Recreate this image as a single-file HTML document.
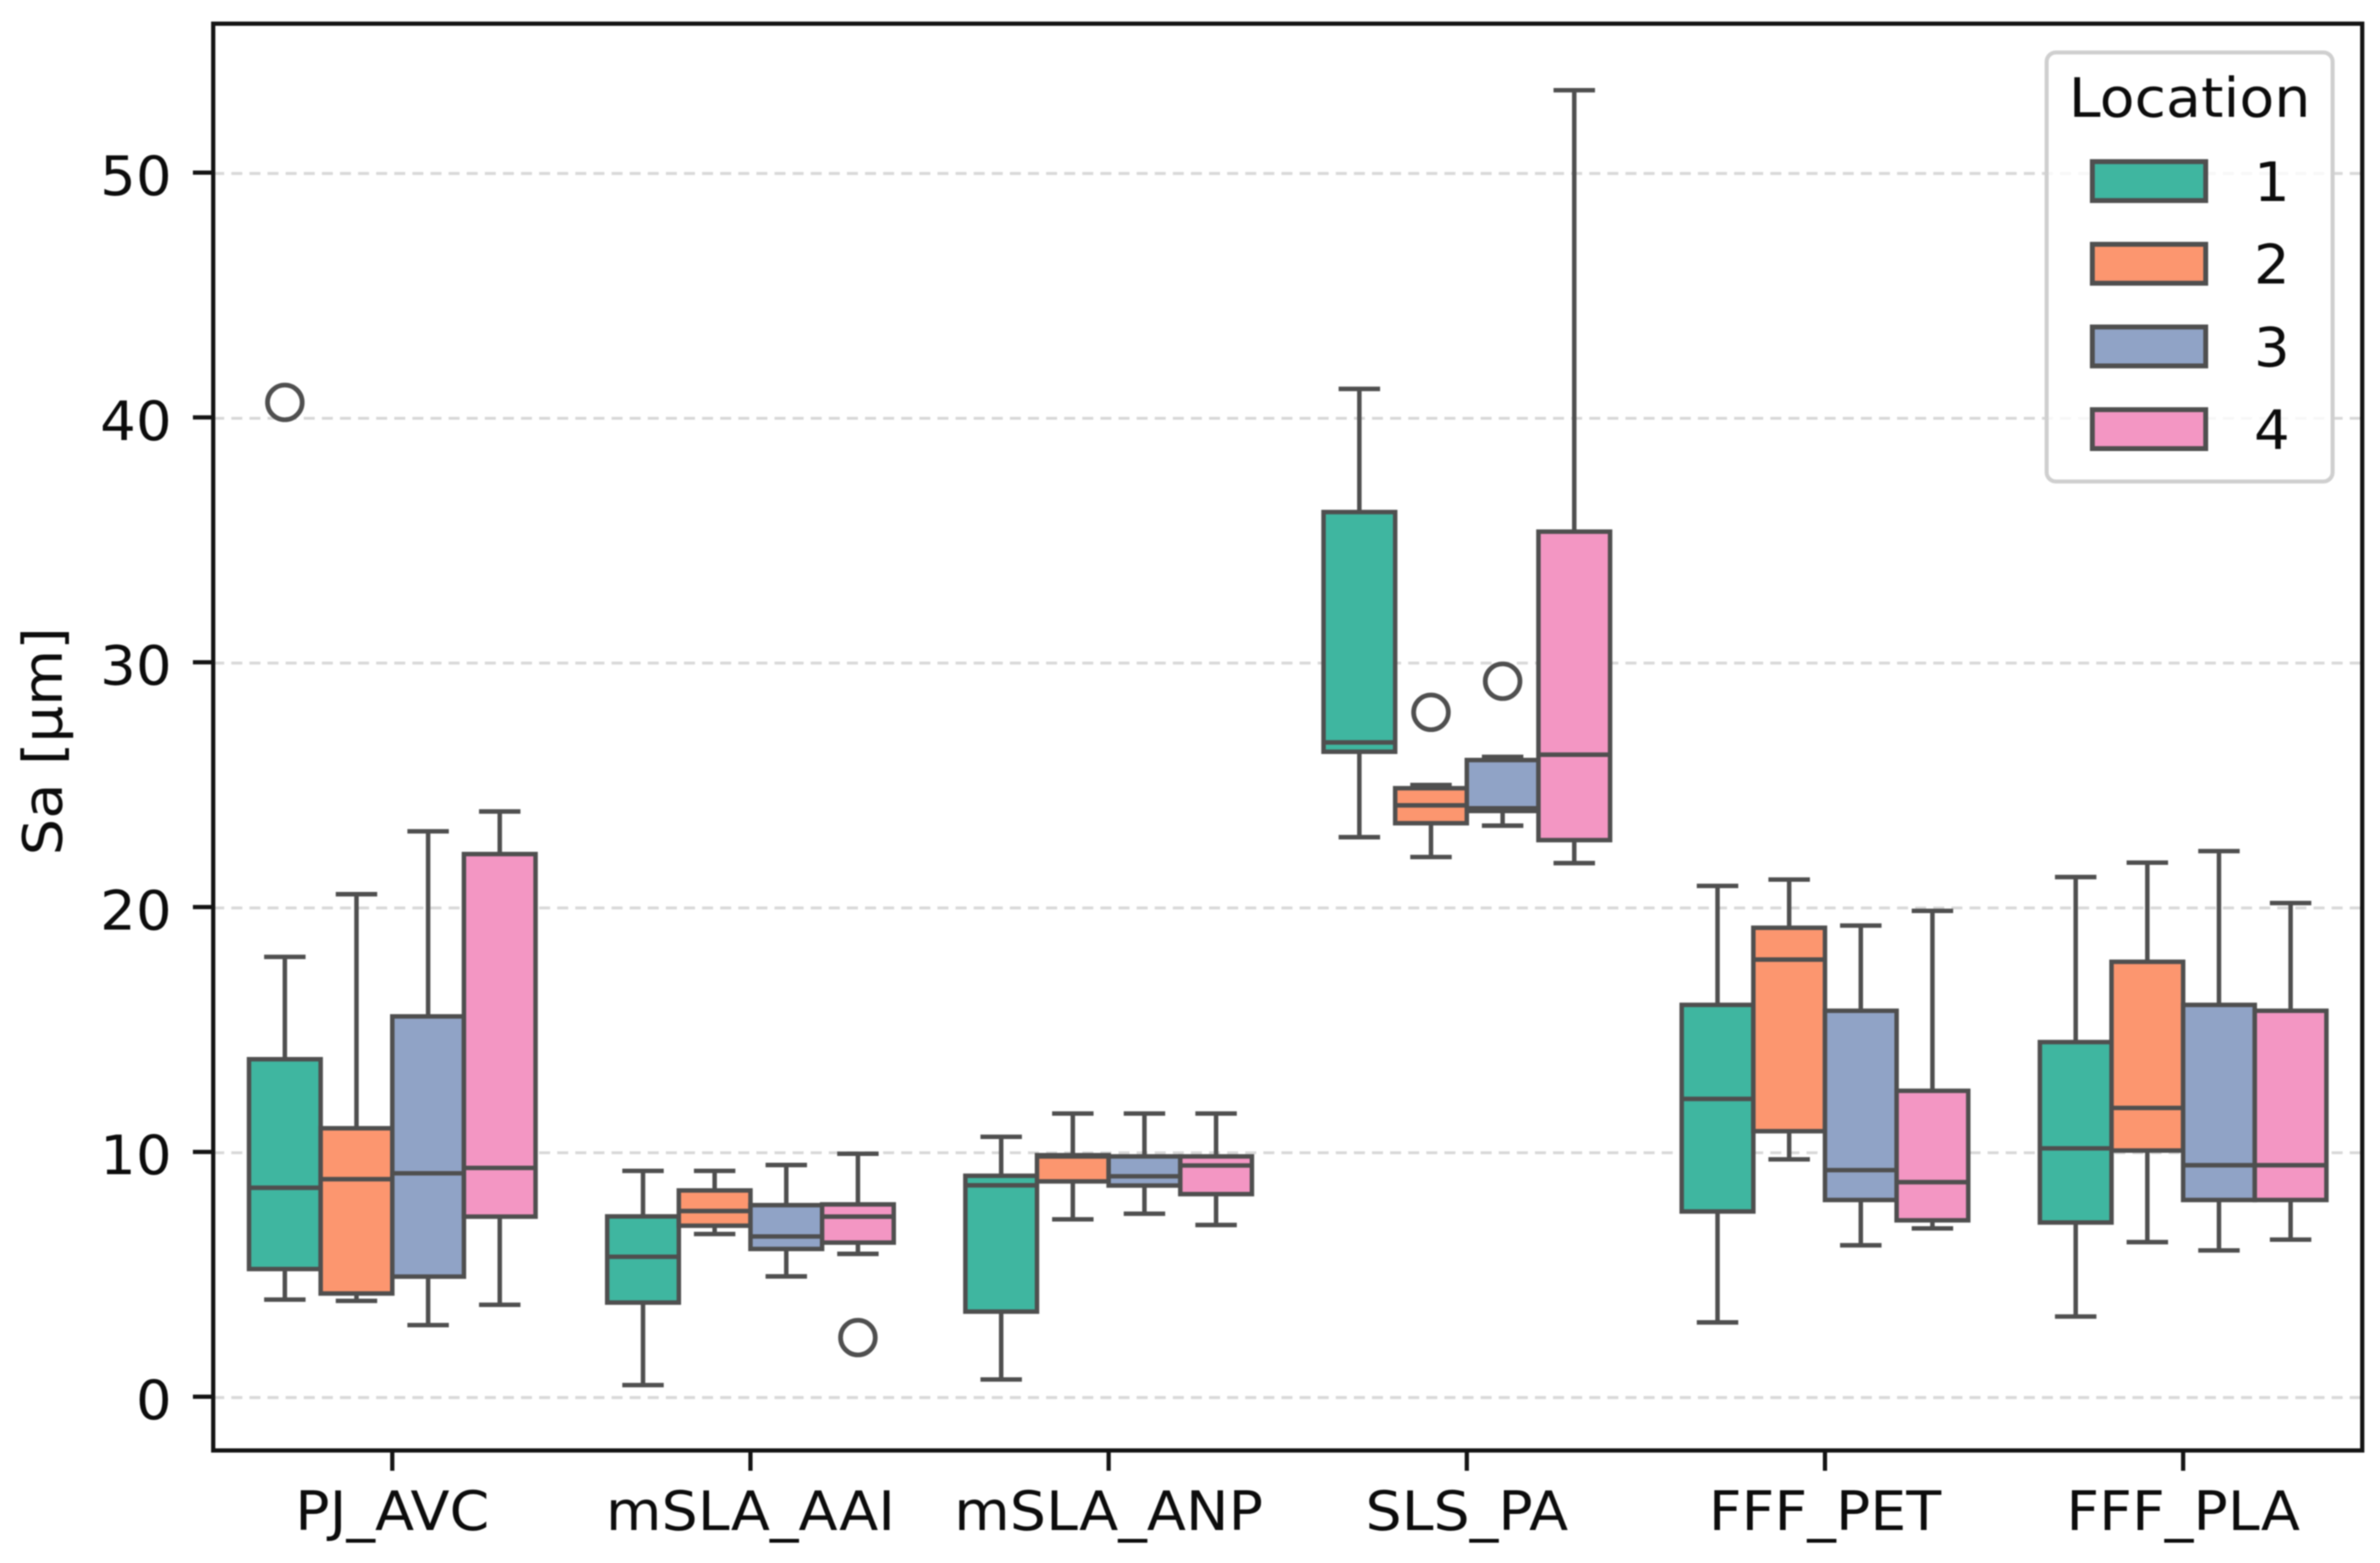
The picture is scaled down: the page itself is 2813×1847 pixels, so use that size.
<!DOCTYPE html>
<html lang="en">
<head>
<meta charset="utf-8">
<title>Sa by material and location</title>
<style>
html,body{margin:0;padding:0;background:#fff;}
svg{display:block;filter:blur(0.85px);}
text{font-family:"DejaVu Sans","Liberation Sans",sans-serif;fill:#0c0c0c;}
</style>
</head>
<body>
<svg id="chart" xmlns="http://www.w3.org/2000/svg" width="2813" height="1847" viewBox="0 0 2813 1847">
  <rect x="0" y="0" width="2813" height="1847" fill="#ffffff"/>
  <g id="grid"></g>
  <g id="boxes"></g>
  <g id="axes"></g>
  <text transform="translate(73,876) rotate(-90) scale(1.065,1)" text-anchor="middle" font-size="64">Sa [µm]</text>
  <g>
    <rect x="2419" y="62" width="338" height="507" rx="11" ry="11" fill="#ffffff" fill-opacity="0.8" stroke="#cfcfcf" stroke-width="4.8"/>
    <text transform="translate(2588,138) scale(1.056,1)" text-anchor="middle" font-size="64">Location</text>
    <g id="legend-entries"></g>
  </g>
</svg>
<script>
const categories = ['PJ_AVC', 'mSLA_AAI', 'mSLA_ANP', 'SLS_PA', 'FFF_PET', 'FFF_PLA'];
const locations = ['1', '2', '3', '4'];
const yTicks = [0, 10, 20, 30, 40, 50];
const colors = ['#3fb6a0', '#fc966f', '#90a3c6', '#f396c3'];

// One row per category, one column per location (µm)
const whiskerHigh = [
  [18.0, 20.56, 23.13, 23.94],
  [9.26, 9.26, 9.5, 9.96],
  [10.65, 11.6, 11.6, 11.6],
  [41.2, 25.02, 26.17, 53.4],
  [20.9, 21.16, 19.28, 19.88],
  [21.26, 21.85, 22.32, 20.2]
];
const q3 = [
  [13.82, 11.0, 15.57, 22.2],
  [7.4, 8.46, 7.86, 7.89],
  [9.06, 9.9, 9.85, 9.85],
  [36.17, 24.89, 26.04, 35.37],
  [16.04, 19.19, 15.8, 12.53],
  [14.52, 17.8, 16.04, 15.8]
];
const median = [
  [8.57, 8.92, 9.16, 9.38],
  [5.75, 7.62, 6.58, 7.39],
  [8.67, 9.85, 9.04, 9.48],
  [26.76, 24.19, 24.07, 26.26],
  [12.2, 17.89, 9.29, 8.8],
  [10.18, 11.83, 9.49, 9.49]
];
const q1 = [
  [5.25, 4.25, 4.94, 7.39],
  [3.88, 7.02, 6.07, 6.33],
  [3.51, 8.83, 8.66, 8.31],
  [26.38, 23.46, 23.96, 22.77],
  [7.6, 10.88, 8.07, 7.24],
  [7.15, 10.09, 8.07, 8.07]
];
const whiskerLow = [
  [4.0, 3.95, 2.96, 3.79],
  [0.51, 6.68, 4.95, 5.87],
  [0.74, 7.28, 7.51, 7.05],
  [22.89, 22.08, 23.36, 21.83],
  [3.07, 9.73, 6.22, 6.91],
  [3.31, 6.35, 6.01, 6.45]
];
const outlierCategory = [0, 1, 3, 3];
const outlierLocation = [0, 3, 1, 2];
const outlierValue = [40.65, 2.45, 27.99, 29.26];

const NS = 'http://www.w3.org/2000/svg';
const plotLeft = 252, plotRight = 2792, plotTop = 28, plotBottom = 1714;
const y0 = 1651.5, yPerUnit = 28.93;
const edge = '#4f4f4f', lw = 5.3;

function yScale(v) { return y0 - v * yPerUnit; }
function bandWidth() { return (plotRight - plotLeft) / categories.length; }
function xCategory(i) { return plotLeft + bandWidth() * (i + 0.5); }
function boxWidth() { return bandWidth() * 0.8 / locations.length; }
function xBox(i, j) { return xCategory(i) + (j - (locations.length - 1) / 2) * boxWidth(); }

function make(tag, attrs, parent) {
  const el = document.createElementNS(NS, tag);
  for (const k in attrs) el.setAttribute(k, attrs[k]);
  parent.appendChild(el);
  return el;
}
function slug(s) { return s.toLowerCase().replace(/_/g, '-'); }

const gridLayer = document.getElementById('grid');
const boxLayer = document.getElementById('boxes');
const axisLayer = document.getElementById('axes');
const legendLayer = document.getElementById('legend-entries');

yTicks.forEach(function (t) {
  const line = make('line', { x1: plotLeft, x2: plotRight, y1: yScale(t), y2: yScale(t), stroke: '#d8d8d8', 'stroke-width': 3.4, 'stroke-dasharray': '13 8.4' }, gridLayer);
  
  
});

categories.forEach(function (cat, i) {
  locations.forEach(function (loc, j) {
    const g = make('g', {}, boxLayer);
    
    
    const cx = xBox(i, j), w = boxWidth(), capHalf = 24.5;

    const whiskerUp = make('line', { x1: cx, x2: cx, y1: yScale(q3[i][j]), y2: yScale(whiskerHigh[i][j]), stroke: edge, 'stroke-width': lw }, g);
    
    

    const whiskerDown = make('line', { x1: cx, x2: cx, y1: yScale(q1[i][j]), y2: yScale(whiskerLow[i][j]), stroke: edge, 'stroke-width': lw }, g);
    
    

    const capUp = make('line', { x1: cx - capHalf, x2: cx + capHalf, y1: yScale(whiskerHigh[i][j]), y2: yScale(whiskerHigh[i][j]), stroke: edge, 'stroke-width': lw }, g);
    
    

    const capDown = make('line', { x1: cx - capHalf, x2: cx + capHalf, y1: yScale(whiskerLow[i][j]), y2: yScale(whiskerLow[i][j]), stroke: edge, 'stroke-width': lw }, g);
    
    

    const body = make('rect', { x: cx - w / 2, y: yScale(q3[i][j]), width: w, height: yScale(q1[i][j]) - yScale(q3[i][j]), fill: colors[j], stroke: edge, 'stroke-width': lw }, g);
    
    

    const med = make('line', { x1: cx - w / 2, x2: cx + w / 2, y1: yScale(median[i][j]), y2: yScale(median[i][j]), stroke: edge, 'stroke-width': lw }, g);
    
    
  });
});

outlierValue.forEach(function (v, k) {
  const dot = make('circle', { cx: xBox(outlierCategory[k], outlierLocation[k]), cy: yScale(v), r: 20.5, fill: 'none', stroke: edge, 'stroke-width': 5.6 }, boxLayer);
  
  
});

const frame = make('rect', { x: plotLeft, y: plotTop, width: plotRight - plotLeft, height: plotBottom - plotTop, fill: 'none', stroke: '#141414', 'stroke-width': 5 }, axisLayer);



yTicks.forEach(function (t) {
  const tick = make('line', { x1: plotLeft - 24, x2: plotLeft, y1: yScale(t) - 1, y2: yScale(t) - 1, stroke: '#141414', 'stroke-width': 5 }, axisLayer);
  
  
  const label = make('text', { transform: 'translate(203,' + (yScale(t) + 25.5) + ') scale(1.04,1)', 'text-anchor': 'end', 'font-size': 64 }, axisLayer);
  label.textContent = String(t);
  
  
});

categories.forEach(function (cat, i) {
  const tick = make('line', { x1: xCategory(i), x2: xCategory(i), y1: plotBottom, y2: plotBottom + 24, stroke: '#141414', 'stroke-width': 5 }, axisLayer);
  
  
  const label = make('text', { transform: 'translate(' + xCategory(i) + ',1808) scale(1.055,1)', 'text-anchor': 'middle', 'font-size': 64 }, axisLayer);
  label.textContent = cat;
  
  
});

locations.forEach(function (loc, j) {
  const entry = make('g', {}, legendLayer);
  
  
  const top = 191 + j * 97.7;
  const swatch = make('rect', { x: 2473, y: top, width: 134, height: 46, fill: colors[j], stroke: edge, 'stroke-width': 5.8 }, entry);
  
  
  const label = make('text', { transform: 'translate(2664,' + (top + 46.5) + ') scale(1.04,1)', 'font-size': 64 }, entry);
  label.textContent = loc;
  
  
});
</script>
</body>
</html>
